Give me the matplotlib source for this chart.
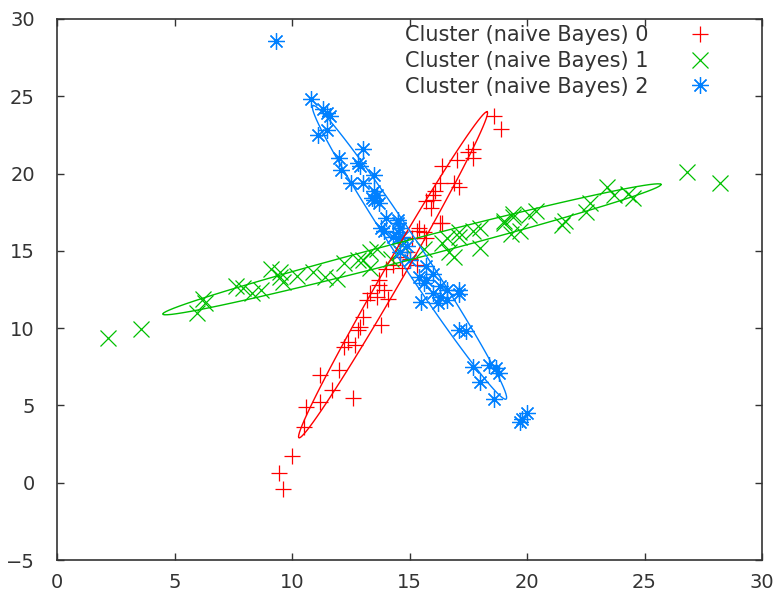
import numpy as np
import matplotlib

matplotlib.use("Agg")
import matplotlib.pyplot as plt

# cluster points
red_x = [18.6, 18.9, 17.7, 17.5, 17.0, 17.7, 16.4, 17.1, 16.3, 16.9, 16.1, 16.0, 15.7, 15.9,
         16.0, 16.4, 16.3, 15.4, 15.6, 15.3, 15.1, 15.7, 14.9, 14.6, 15.0, 15.3, 14.7, 14.3,
         14.0, 13.7, 13.9, 13.3, 13.7, 14.1, 13.6, 13.2, 13.0, 13.8, 12.9, 12.8, 12.4, 12.2,
         12.7, 12.0, 11.2, 11.7, 11.2, 10.6, 10.5, 12.6, 10.0, 9.45, 9.6]
red_y = [23.7, 22.9, 21.6, 21.4, 20.9, 21.0, 20.5, 19.1, 19.4, 19.4, 18.9, 18.6, 18.2, 17.8,
         18.3, 16.8, 16.8, 16.5, 16.2, 16.3, 15.8, 15.8, 14.9, 14.6, 14.5, 14.1, 13.9, 14.1,
         13.8, 13.1, 12.5, 12.3, 12.8, 11.9, 12.0, 11.8, 10.7, 10.2, 10.1, 9.9, 9.1, 8.8,
         8.9, 7.3, 7.0, 6.0, 5.2, 4.9, 3.6, 5.5, 1.7, 0.6, -0.4]

green_x = [2.17, 3.57, 6.2, 5.96, 6.3, 7.6, 7.9, 8.3, 8.7, 9.5, 9.6, 9.1, 9.5, 10.2, 10.9,
           11.4, 11.9, 12.2, 12.8, 13.3, 13.3, 13.0, 13.6, 14.2, 14.6, 14.7, 15.6, 16.4, 16.6,
           16.7, 16.9, 17.1, 17.1, 17.7, 18.0, 18.0, 19.0, 19.4, 19.4, 19.0, 19.7, 19.3, 20.1,
           20.4, 21.5, 21.6, 22.5, 22.7, 23.4, 23.7, 24.3, 24.5, 26.8, 28.2]
green_y = [9.36, 9.94, 11.9, 11.0, 11.6, 12.7, 12.6, 12.3, 12.5, 13.6, 13.0, 13.8, 13.3, 13.4,
           13.6, 13.3, 13.2, 14.2, 14.4, 14.9, 13.9, 14.4, 15.1, 14.5, 14.9, 15.4, 15.1, 15.5,
           15.8, 14.9, 14.6, 16.2, 15.9, 16.3, 16.5, 15.2, 16.8, 17.4, 17.2, 16.9, 16.3, 16.1,
           17.3, 17.6, 16.7, 16.9, 17.5, 18.1, 19.1, 18.6, 18.7, 18.4, 20.1, 19.4]

blue_x = [9.3, 10.8, 11.3, 11.5, 11.6, 11.5, 11.1, 13.0, 12.0, 12.8, 12.1, 12.9, 13.5, 12.5,
          13.0, 13.5, 13.4, 13.6, 13.7, 13.5, 14.0, 14.5, 14.5, 14.6, 13.8, 13.9, 14.3, 14.7,
          14.5, 14.5, 14.9, 14.6, 15.0, 15.4, 15.7, 15.7, 16.0, 16.3, 17.1, 16.0, 15.6, 16.3,
          16.6, 16.2, 17.1, 15.5, 16.6, 17.1, 17.4, 17.7, 18.4, 18.7, 18.8, 18.0, 18.6, 19.8,
          20.0, 19.7]
blue_y = [28.6, 24.8, 24.2, 23.9, 23.7, 22.8, 22.5, 21.6, 21.0, 20.7, 20.2, 20.5, 19.9, 19.4,
          19.4, 18.9, 18.4, 18.6, 18.1, 18.3, 17.1, 17.0, 16.8, 16.5, 16.5, 16.3, 15.9, 15.9,
          15.8, 16.2, 15.3, 14.9, 14.4, 13.3, 13.1, 14.0, 13.5, 12.7, 12.5, 12.3, 12.9, 12.0,
          11.8, 11.6, 12.2, 11.7, 12.5, 9.9, 9.8, 7.5, 7.6, 7.4, 7.1, 6.5, 5.4, 4.1,
          4.5, 3.9]

labels = ["Cluster (naive Bayes) 0", "Cluster (naive Bayes) 1", "Cluster (naive Bayes) 2"]

# ellipse per cluster: centre, half major-axis vector, half minor width (data units)
ell_cx = [14.3, 15.1, 15.0]
ell_cy = [13.45, 15.1, 14.9]
ell_ux = [4.0, 10.6, -4.1]
ell_uy = [10.55, 4.2, 9.5]
ell_b = [0.45, 0.6, 0.57]

colors = ["#ff0000", "#00c000", "#0080ff"]
markers = ["+", "x", (8, 2, 0)]
INK = "#333333"

plt.rcParams["font.family"] = ["DejaVu Sans"]

fig = plt.figure(figsize=(7.77, 5.95), dpi=100)
ax = fig.add_axes([57 / 777, 1 - 560 / 595, 705 / 777, 541 / 595])

series = [(red_x, red_y), (green_x, green_y), (blue_x, blue_y)]
for i, (xs, ys) in enumerate(series):
    ax.plot(xs, ys, linestyle="none", marker=markers[i], markersize=12,
            markeredgewidth=0.9, color=colors[i], label=labels[i])

t = np.linspace(0, 2 * np.pi, 90)
for i in range(3):
    ux, uy = ell_ux[i], ell_uy[i]
    n = np.hypot(ux, uy)
    vx, vy = -uy / n * ell_b[i], ux / n * ell_b[i]
    ex = ell_cx[i] + ux * np.cos(t) + vx * np.sin(t)
    ey = ell_cy[i] + uy * np.cos(t) + vy * np.sin(t)
    ax.plot(ex, ey, color=colors[i], linewidth=1.0)

ax.set_xlim(0, 30)
ax.set_ylim(-5, 30)
ax.set_xticks(range(0, 31, 5))
ax.set_yticks(range(-5, 31, 5))
ax.tick_params(direction="in", length=5, width=1, top=True, right=True,
               colors=INK, labelcolor=INK, labelsize=14)
ax.tick_params(axis="x", pad=9)
ax.tick_params(axis="y", pad=16)
for s in ax.spines.values():
    s.set_color(INK)
    s.set_linewidth(1.2)

leg = ax.legend(loc="upper right", bbox_to_anchor=(721 / 777, 1 - 25 / 595),
                bbox_transform=fig.transFigure, frameon=False, markerfirst=False,
                fontsize=15, handlelength=2.0, handletextpad=1.5, borderpad=0,
                borderaxespad=0, labelspacing=0.28)
for txt in leg.get_texts():
    txt.set_color(INK)

fig.savefig("out.png", dpi=100)
